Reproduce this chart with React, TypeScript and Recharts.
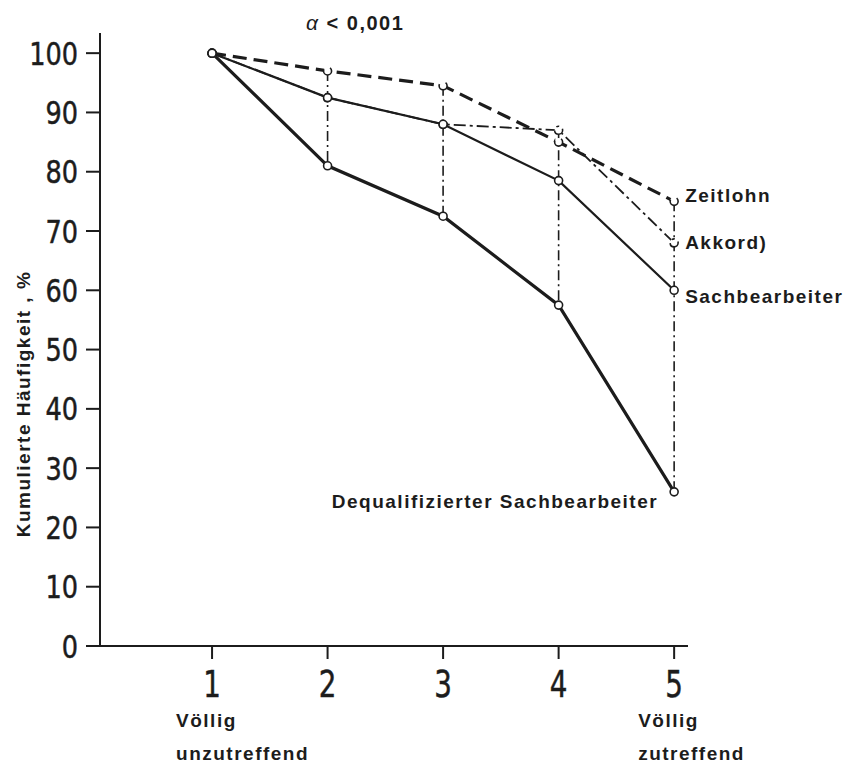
import React from "react"
import {
  LineChart,
  Line,
  XAxis,
  YAxis,
  ReferenceLine,
  LabelList,
} from "recharts"

const steps = [1, 2, 3, 4, 5]
const zeitlohn = [100, 97, 94.5, 85, 75]
const akkord = [100, 92.5, 88, 87, 68]
const sachbearbeiter = [100, 92.5, 88, 78.5, 60]
const dequalifiziert = [100, 81, 72.5, 57.5, 26]
const yTicks = [0, 10, 20, 30, 40, 50, 60, 70, 80, 90, 100]

const INK = "#1c1c1c"
const DIGITS = "'DejaVu Sans', sans-serif"
const SANS = "'Liberation Sans', Arial, sans-serif"

const data = steps.map((x, i) => ({
  x,
  zeit: zeitlohn[i],
  akk: akkord[i],
  sach: sachbearbeiter[i],
  deq: dequalifiziert[i],
}))

// vertical dash-dot spans between highest and lowest series at each step
const spans = steps.slice(1).map((x) => {
  const i = steps.indexOf(x)
  const vals = [zeitlohn[i], akkord[i], sachbearbeiter[i], dequalifiziert[i]]
  return { x, top: Math.max(...vals), bottom: Math.min(...vals) }
})

const dot = { r: 4, fill: "#fff", stroke: INK, strokeWidth: 1.6 }

const labelStyle = {
  fontFamily: SANS,
  fontWeight: 700,
  fontSize: 19,
  letterSpacing: 1.5,
  fill: INK,
}

function endLabel(text: string, dx: number, dy: number, anchor: "start" | "end") {
  return (props: any) => {
    if (props.index !== steps.length - 1) return null
    return (
      <text x={props.x + dx} y={props.y + dy} textAnchor={anchor} dominantBaseline="central" {...labelStyle}>
        {text}
      </text>
    )
  }
}

// condensed look: squeeze the digits horizontally
function YTick(props: any) {
  const { x, y, payload } = props
  return (
    <text
      transform={`translate(${x},${y}) scale(0.8,1)`}
      dy="0.36em"
      textAnchor="end"
      fontFamily={DIGITS}
      fontSize={32}
      fill={INK}
      stroke={INK}
      strokeWidth={0.5}
    >
      {payload.value}
    </text>
  )
}

function XTick(props: any) {
  const { x, y, payload } = props
  const v = payload.value
  const extra = v === 1 ? "unzutreffend" : v === 5 ? "zutreffend" : null
  return (
    <g>
      <text
        transform={`translate(${x},${y}) scale(0.75,1)`}
        dy="0.72em"
        textAnchor="middle"
        fontFamily={DIGITS}
        fontSize={37}
        fill={INK}
        stroke={INK}
        strokeWidth={0.5}
      >
        {v}
      </text>
      {extra && (
        <text x={x - 36} y={727} {...labelStyle}>
          <tspan x={x - 36}>Völlig</tspan>
          <tspan x={x - 36} dy={33}>{extra}</tspan>
        </text>
      )}
    </g>
  )
}

export default function App() {
  return (
    <div style={{ position: "relative", width: 844, height: 764, background: "#fff" }}>
      <style>{`body{margin:0}`}</style>
      <div
        style={{
          position: "absolute",
          left: 306,
          top: 11,
          fontFamily: SANS,
          fontSize: 20,
          fontWeight: 700,
          letterSpacing: 1.5,
          color: INK,
          lineHeight: "24px",
          whiteSpace: "pre",
        }}
      >
        <span style={{ fontStyle: "italic", fontWeight: 400, fontSize: 21 }}>α</span>
        {" < 0,001"}
      </div>
      <LineChart width={844} height={764} data={data} margin={{ top: 33, right: 156, bottom: 0, left: 0 }}>
        <XAxis
          type="number"
          dataKey="x"
          domain={[0.03, 5.12]}
          ticks={steps}
          height={118}
          tickSize={13}
          tickMargin={11}
          axisLine={{ stroke: INK, strokeWidth: 2 }}
          tickLine={{ stroke: INK, strokeWidth: 2 }}
          tick={<XTick />}
        />
        <YAxis
          type="number"
          domain={[0, 103.4]}
          ticks={yTicks}
          width={100}
          tickSize={14}
          tickMargin={8}
          axisLine={{ stroke: INK, strokeWidth: 2 }}
          tickLine={{ stroke: INK, strokeWidth: 2 }}
          tick={<YTick />}
          label={() => (
            <text
              x={23}
              y={404}
              transform="rotate(-90 23 404)"
              textAnchor="middle"
              dominantBaseline="central"
              {...labelStyle}
            >
              Kumulierte Häufigkeit , %
            </text>
          )}
        />
        {spans.map((s) => (
          <ReferenceLine
            key={s.x}
            segment={[
              { x: s.x, y: s.top },
              { x: s.x, y: s.bottom },
            ]}
            stroke={INK}
            strokeWidth={1.6}
            strokeDasharray="10 4 2 4"
          />
        ))}
        <Line
          dataKey="akk"
          stroke={INK}
          strokeWidth={1.8}
          strokeDasharray="12 4 3 4"
          dot={dot}
          isAnimationActive={false}
        >
          <LabelList content={endLabel("Akkord)", 11, 0, "start")} />
        </Line>
        <Line dataKey="zeit" stroke={INK} strokeWidth={3.2} strokeDasharray="14 7" dot={dot} isAnimationActive={false}>
          <LabelList content={endLabel("Zeitlohn", 11, -6, "start")} />
        </Line>
        <Line dataKey="sach" stroke={INK} strokeWidth={2.2} dot={dot} isAnimationActive={false}>
          <LabelList content={endLabel("Sachbearbeiter", 11, 6, "start")} />
        </Line>
        <Line dataKey="deq" stroke={INK} strokeWidth={3.2} dot={dot} isAnimationActive={false}>
          <LabelList content={endLabel("Dequalifizierter Sachbearbeiter", -16, 10, "end")} />
        </Line>
      </LineChart>
    </div>
  )
}
